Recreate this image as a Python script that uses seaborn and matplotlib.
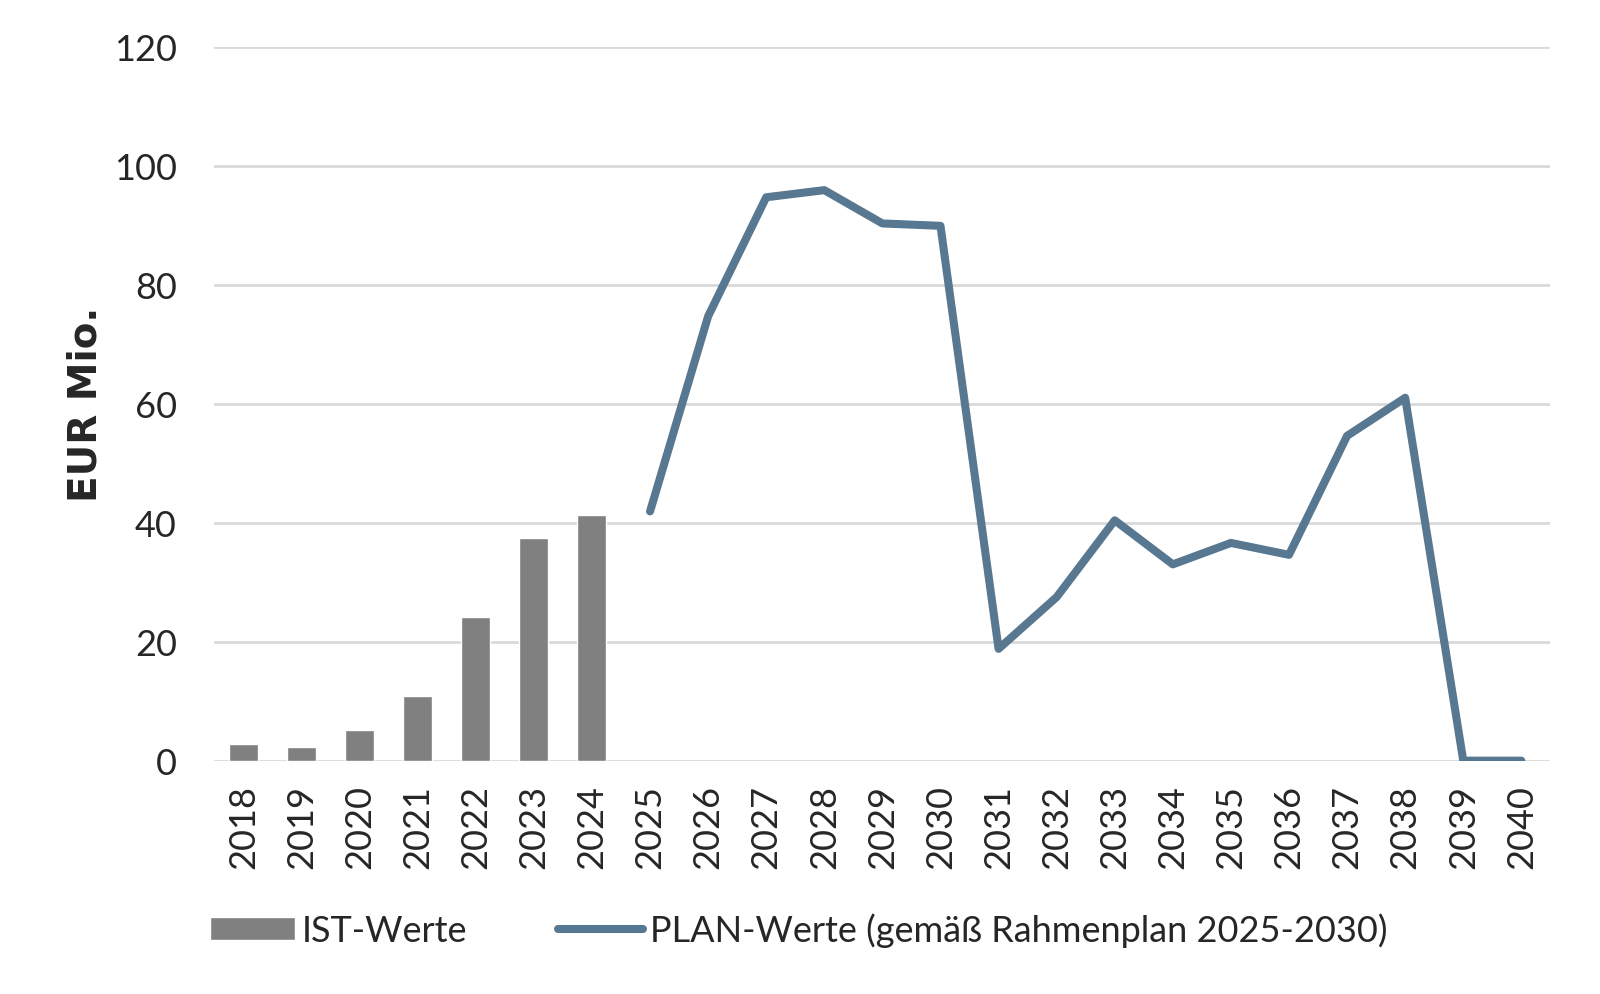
import matplotlib
matplotlib.use("Agg")
import matplotlib.pyplot as plt
import seaborn as sns
import pandas as pd
import numpy as np

years = [str(y) for y in range(2018, 2041)]
ist_years = ["2018", "2019", "2020", "2021", "2022", "2023", "2024"]
ist_values = [2.8, 2.3, 5.1, 10.9, 24.1, 37.5, 41.3]
plan_years = [str(y) for y in range(2025, 2041)]
plan_values = [41.9, 74.7, 94.7, 95.9, 90.3, 89.9, 18.8, 27.5, 40.4, 33.0,
               36.6, 34.6, 54.6, 61.0, 0.0, 0.0]
yticks = [0, 20, 40, 60, 80, 100, 120]

sns.set_theme(style="white")
plt.rcParams['font.family'] = ['Lato', 'DejaVu Sans']

fig, ax = plt.subplots(figsize=(16, 9.95), dpi=100)
fig.subplots_adjust(left=0.134, right=0.969, top=0.952, bottom=0.2345)

df_ist = pd.DataFrame({"year": ist_years, "value": ist_values})
sns.barplot(data=df_ist, x="year", y="value", order=years, color="#808080",
            saturation=1, width=0.5, ax=ax, label="IST-Werte", zorder=3)

df_plan = pd.DataFrame({"pos": [years.index(y) for y in plan_years], "value": plan_values})
sns.lineplot(data=df_plan, x="pos", y="value", color="#587790", linewidth=5.8,
             ax=ax, label="PLAN-Werte (gemäß Rahmenplan 2025-2030)", zorder=4,
             solid_capstyle="round", solid_joinstyle="round")

ax.set_xlim(-0.5, len(years) - 0.5)
ax.set_ylim(0, 120)
ax.set_yticks(yticks)
ax.set_yticklabels([str(t) for t in yticks], fontsize=26)
ax.set_xticks(range(len(years)))
ax.set_xticklabels(years, rotation=90, fontsize=26)
ax.tick_params(axis="y", pad=27, length=0)
ax.tick_params(axis="x", pad=17, length=0)
ax.yaxis.grid(True, color="#d9d9d9", linewidth=2)
ax.set_axisbelow(True)
for s in ax.spines.values():
    s.set_visible(False)
ax.set_xlabel("")
ax.set_ylabel("EUR Mio.", fontsize=28, fontweight="bold", labelpad=7,
              family=["DejaVu Sans"])

handles, labels = ax.get_legend_handles_labels()
order = [labels.index("IST-Werte"), labels.index("PLAN-Werte (gemäß Rahmenplan 2025-2030)")]
ax.legend([handles[i] for i in order], [labels[i] for i in order],
          loc="center left", bbox_to_anchor=(-0.0277, -0.237), ncol=2, frameon=False,
          fontsize=26, handlelength=2.35, handleheight=0.58, handletextpad=0.2,
          columnspacing=2.5)

fig.savefig("out.png", dpi=100)
